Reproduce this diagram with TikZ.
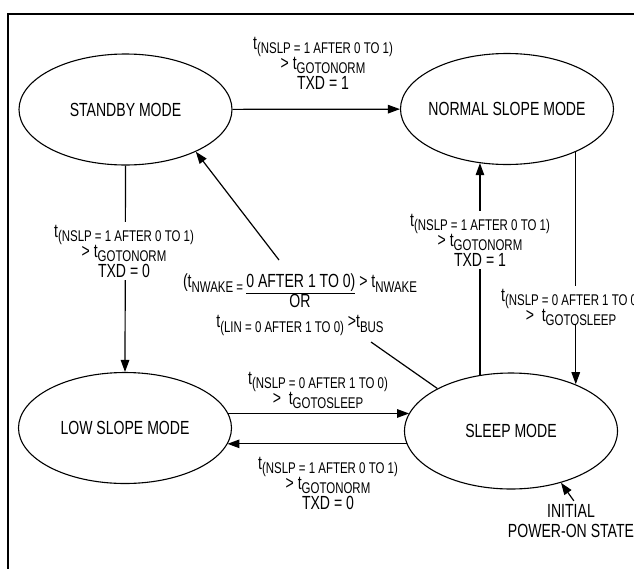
\documentclass[tikz,border=0pt]{standalone}
\usepackage{fontspec}
\setmainfont{Liberation Sans}[FakeStretch=0.74]
\usetikzlibrary{shapes.geometric, arrows.meta, positioning}

% lowered subscript text after a t
\newcommand{\tlo}[1]{\raisebox{-4.5pt}[0pt][0pt]{\fontsize{15.5}{15.5}\selectfont #1}}

\begin{document}
\begin{tikzpicture}[x=1pt, y=-1pt, every node/.style={font=\fontsize{19}{20}\selectfont}]
    \tikzset{
      modestate/.style={ellipse, draw, line width=1.1pt, minimum width=213pt,
                        minimum height=111pt, inner sep=0pt},
      cond/.style={fill=white, inner sep=3pt, align=center},
      trans/.style={-{Triangle[length=12pt, width=8.5pt]}, line width=1.2pt}}
    \useasboundingbox (0,0) rectangle (634,568);
    \clip (0,0) rectangle (634,568);
    \draw[line width=2pt] (8,13.5) rectangle (660,600);
    % states
    \node[modestate, label=center:STANDBY MODE] (standby) at (125.5,109.5) {};
    \node[modestate, label=center:NORMAL SLOPE MODE] (normal) at (507,109) {};
    \node[modestate, label=center:LOW SLOPE MODE] (low) at (125,428) {};
    \node[modestate, minimum height=116pt, label=center:SLEEP MODE] (sleep) at (511,431) {};
    % transitions
    \draw[trans] (standby) -- (normal);
    \draw[trans] (standby.south) -- (low.north);
    \draw[trans] (low.8) -- (low.8 -| sleep.170);
    \draw[trans] (sleep.187) -- (sleep.187 -| low.-9);
    \draw[trans] (sleep.119) -- (sleep.119 |- normal.243);
    \draw[trans] (normal.-32) -- (normal.-32 |- sleep.36);
    \coordinate (wakeA) at (371,342);
    \coordinate (wakeB) at (279,260);
    \draw[line width=1.2pt] (sleep.150) -- (wakeA);
    \draw[trans] (wakeB) -- (standby.-31);
    % conditions
    \node[cond] (cTop) at (323,63)
      {t\tlo{(NSLP = 1 AFTER 0 TO 1)}\\> t\tlo{GOTONORM}\\TXD = 1};
    \node[cond] (cLeft) at (124,251)
      {t\tlo{(NSLP = 1 AFTER 0 TO 1)}\\> t\tlo{GOTONORM}\\TXD = 0};
    \node[cond] (cWake) at (300,301)
      {(t\tlo{NWAKE = }\underline{0 AFTER 1 TO 0)} > t\tlo{NWAKE}\\OR\\
       t\tlo{(LIN = 0 AFTER 1 TO 0)} >t\tlo{BUS}};
    \node[cond] (cUp) at (480,240)
      {t\tlo{(NSLP = 1 AFTER 0 TO 1)}\\> t\tlo{GOTONORM}\\TXD = 1};
    \node[cond] (cDown) at (571,305)
      {t\tlo{(NSLP = 0 AFTER 1 TO 0)}\\>\ \ t\tlo{GOTOSLEEP}};
    \node[cond] (cToSleep) at (318,388)
      {t\tlo{(NSLP = 0 AFTER 1 TO 0)}\\>\ \ t\tlo{GOTOSLEEP}};
    \node[cond] (cToLow) at (328,483)
      {t\tlo{(NSLP = 1 AFTER 0 TO 1)}\\> t\tlo{GOTONORM}\\TXD = 0};
    % power-on
    \node[align=center] (init) at (571,521) {INITIAL\\POWER-ON STATE};
    \draw[trans] (init.82) -- (sleep.-46);
\end{tikzpicture}
\end{document}
